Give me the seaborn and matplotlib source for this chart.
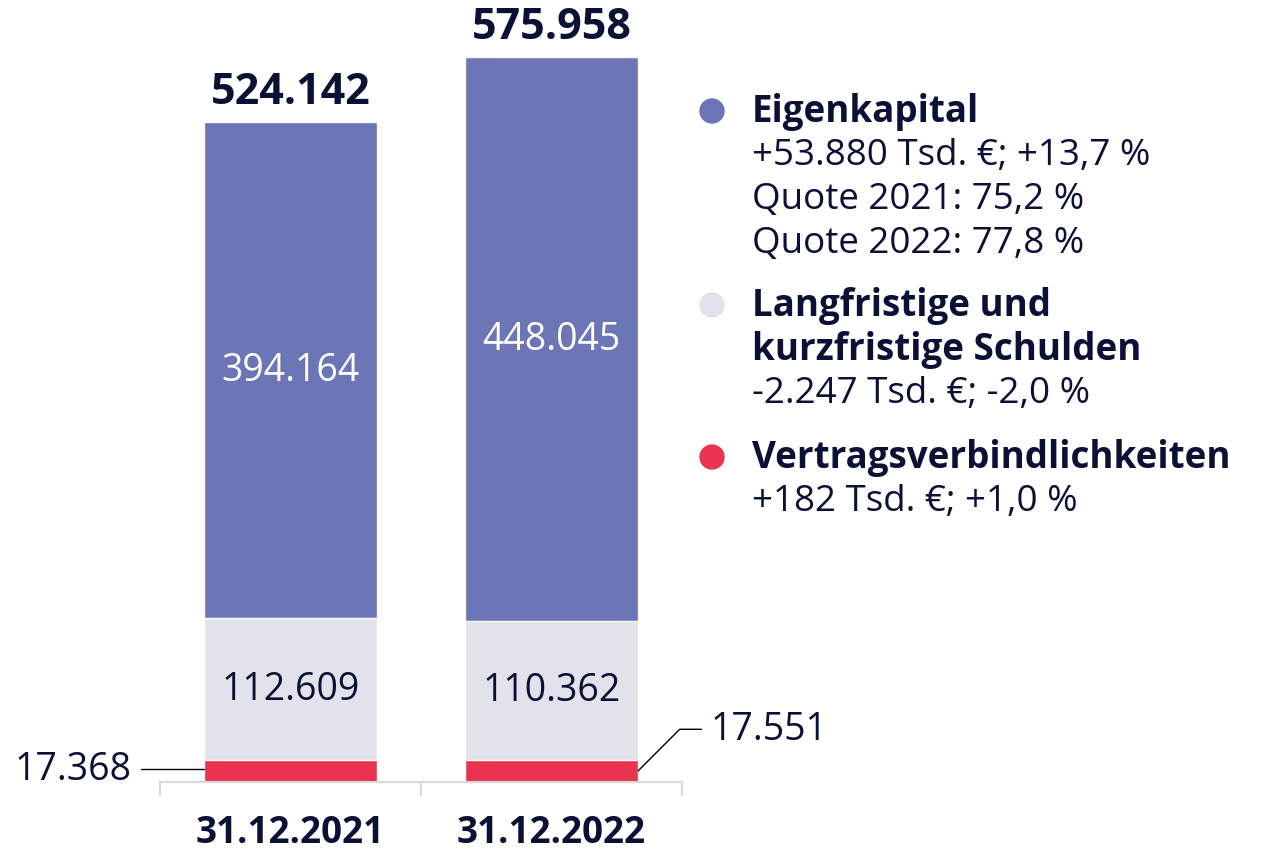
import numpy as np
import pandas as pd
import seaborn as sns
import matplotlib.pyplot as plt
from matplotlib.patches import Ellipse

dates = ["31.12.2021", "31.12.2022"]
eigenkapital = [394164, 448045]
schulden = [112609, 110362]
vertrag = [17368, 17551]
totals = [524142, 575958]
total_labels = ["524.142", "575.958"]

def fmt(v):
    return f"{v:,}".replace(",", ".")

blue = "#6c75b5"
grey = "#e2e3ea"
red = "#e8344f"
navy = "#0b1035"

sns.set_style("white")
plt.rcParams["font.family"] = ["Open Sans", "DejaVu Sans"]

df = pd.DataFrame({"date": dates, "ek": eigenkapital, "sd": schulden, "vv": vertrag})
df["stack_top"] = df["ek"] + df["sd"] + df["vv"]
df["stack_mid"] = df["sd"] + df["vv"]

fig = plt.figure(figsize=(12.63, 8.53), dpi=100)
ax = fig.add_axes([160 / 1263, 70 / 853, 522 / 1263, 783 / 853])

w = 0.663
sns.barplot(data=df, x="date", y="stack_top", color=blue, width=w, ax=ax, saturation=1)
sns.barplot(data=df, x="date", y="stack_mid", color=grey, width=w, ax=ax, saturation=1)
sns.barplot(data=df, x="date", y="vv", color=red, width=w, ax=ax, saturation=1)

ax.set_xlim(-0.5, 1.5)
ax.set_ylim(0, 783 / (660 / 524142))
ax.set_xlabel("")
ax.set_ylabel("")
ax.set_yticks([])
for s in ["top", "left", "right"]:
    ax.spines[s].set_visible(False)
ax.spines["bottom"].set_color("#d9d9d9")
ax.spines["bottom"].set_linewidth(1.5)
ax.set_xticks([0, 1])
ax.set_xticklabels(dates, fontsize=26.5, fontweight="bold", color=navy)
ax.tick_params(axis="x", which="major", length=0, pad=22)
ax.set_xticks([-0.5, 0.5, 1.5], minor=True)
ax.tick_params(axis="x", which="minor", bottom=True, length=10, width=1.5,
               color="#d9d9d9", direction="out")

for i in range(2):
    ek, sd, vv, tot = eigenkapital[i], schulden[i], vertrag[i], totals[i]
    ax.text(i, vv + sd + ek / 2, fmt(ek), ha="center", va="center", fontsize=27, color="white")
    ax.text(i, vv + sd / 2, fmt(sd), ha="center", va="center", fontsize=27, color=navy)
    ax.text(i, tot + 7000, total_labels[i], ha="center", va="bottom", fontsize=31,
            fontweight="bold", color=navy)

# leader lines for the small red segments
ax.annotate(fmt(vertrag[0]), xy=(0 - w / 2, vertrag[0] * 0.6), xytext=(-52, 0),
            textcoords="offset points", ha="right", va="center", fontsize=27, color=navy,
            annotation_clip=False,
            arrowprops=dict(arrowstyle="-", color="black", lw=1,
                            connectionstyle="angle,angleA=0,angleB=15,rad=0",
                            shrinkA=4, shrinkB=0))
ax.annotate(fmt(vertrag[1]), xy=(1 + w / 2, vertrag[1] * 0.5), xytext=(52, 30),
            textcoords="offset points", ha="left", va="center", fontsize=27, color=navy,
            annotation_clip=False,
            arrowprops=dict(arrowstyle="-", color="black", lw=1,
                            connectionstyle="angle,angleA=0,angleB=45,rad=0",
                            shrinkA=4, shrinkB=0))

# legend block on the right
legend = [
    (blue, ["Eigenkapital"], ["+53.880 Tsd. €; +13,7 %", "Quote 2021: 75,2 %", "Quote 2022: 77,8 %"], 112),
    (grey, ["Langfristige und", "kurzfristige Schulden"], ["-2.247 Tsd. €; -2,0 %"], 306),
    (red, ["Vertragsverbindlichkeiten"], ["+182 Tsd. €; +1,0 %"], 458),
]
step = 44
for col, heads, subs, y0 in legend:
    fig.add_artist(Ellipse((712 / 1263, 1 - y0 / 853), 24 / 1263, 24 / 853, color=col,
                           transform=fig.transFigure))
    y = y0
    for h in heads:
        fig.text(752 / 1263, 1 - y / 853, h, ha="left", va="center", fontsize=26.5,
                 fontweight="bold", color=navy)
        y += step
    for s in subs:
        fig.text(752 / 1263, 1 - y / 853, s, ha="left", va="center", fontsize=26.5, color=navy)
        y += step

fig.savefig("out.png", dpi=100)
